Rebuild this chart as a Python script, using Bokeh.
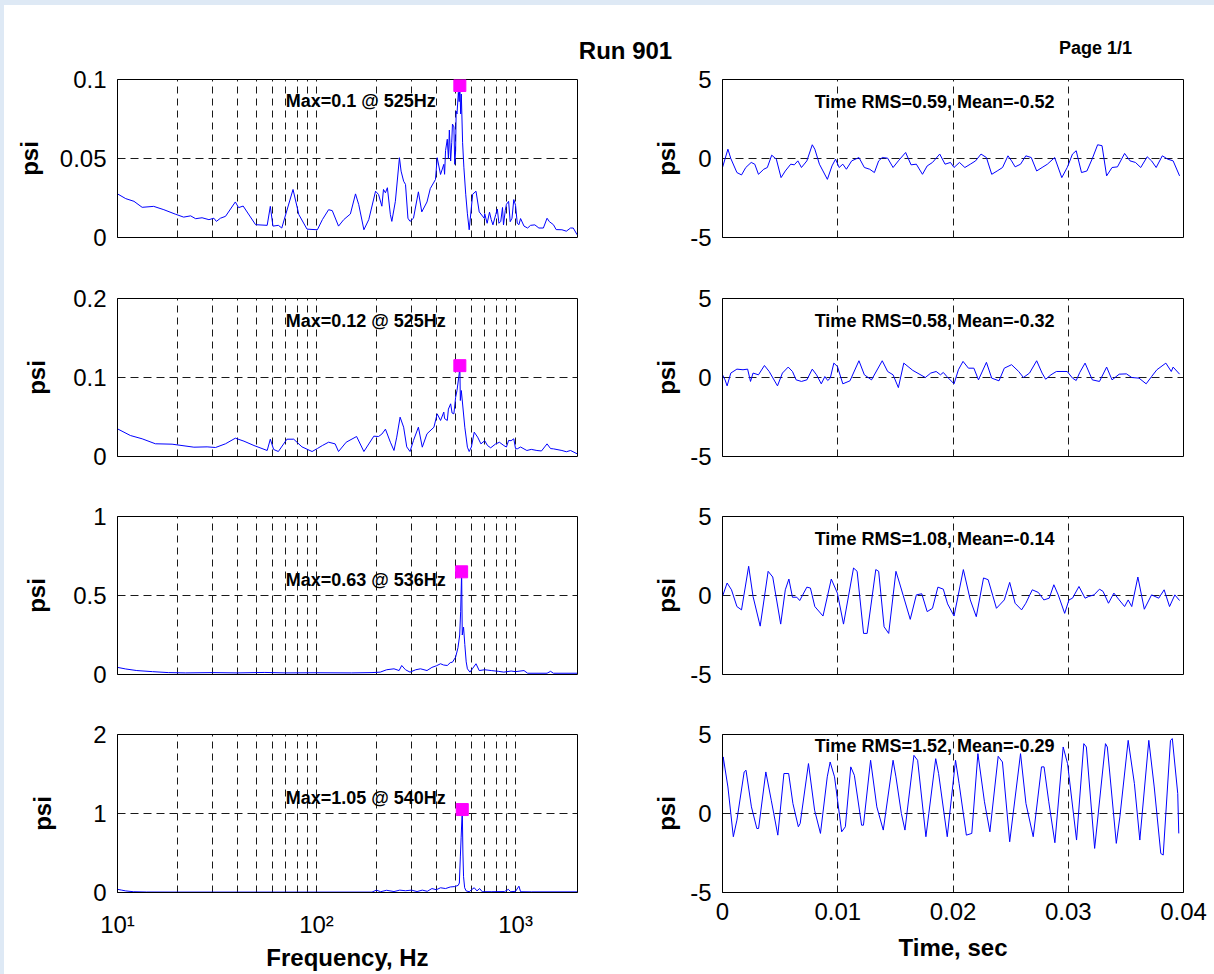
from bokeh.plotting import figure
from bokeh.layouts import row, column
from bokeh.models import FixedTicker, CustomJSTickFormatter, Label
from bokeh.embed import file_html
from bokeh.resources import INLINE

FONT = "Liberation Sans"
BLUE = "#0000ff"
MAGENTA = "#ff00ff"
FRAME_BLUE = "#dee9f5"

# ---------------- data ----------------
title_text = "Run 901"
page_text = "Page 1/1"

# Spectrum, channel 1 (Hz, psi)
freq1 = [10, 11, 12.1, 13.3, 15.2, 17.1, 19.5, 21.5, 23.3, 24.7, 26.6, 28.8, 30.5, 31.4, 32.9, 34.9,
         39.1, 40.6, 42.8, 49.4, 56.5, 58.6, 60.4, 64.3, 66.9, 76.2, 81.5, 89.6, 101, 107, 115, 120,
         129, 137, 148, 157, 163, 173, 183, 198, 205, 213, 217, 222, 227, 235, 239, 249, 261, 266,
         274, 280, 288, 295, 307, 325, 338, 359, 373, 396, 404, 420, 436, 440, 445, 454, 460, 465,
         472, 478, 482, 490, 495, 500, 503, 508, 516, 521, 525, 530, 534, 542, 550, 562, 573, 585,
         609, 633, 657, 696, 700, 720, 740, 755, 770, 795, 810, 825, 843, 860, 870, 888, 900, 923,
         940, 960, 980, 1000, 1020, 1040, 1060, 1103, 1150, 1190, 1250, 1310, 1380, 1440, 1480,
         1550, 1600, 1710, 1800, 1890, 1950, 2040]
amp1 = [0.0276, 0.0246, 0.0229, 0.0191, 0.0197, 0.0176, 0.0148, 0.0129, 0.0137, 0.0119, 0.0125, 0.0113,
        0.0122, 0.0102, 0.0122, 0.0134, 0.0225, 0.0189, 0.0199, 0.0081, 0.0077, 0.0197, 0.0072, 0.0077,
        0.0060, 0.0304, 0.0145, 0.0053, 0.0049, 0.0113, 0.0176, 0.0170, 0.0072, 0.0113, 0.0149, 0.0276,
        0.0208, 0.0049, 0.0113, 0.0293, 0.0272, 0.0198, 0.0304, 0.0283, 0.0315, 0.0145, 0.0102, 0.0229,
        0.0505, 0.0420, 0.0356, 0.0336, 0.0122, 0.0102, 0.0122, 0.0289, 0.0162, 0.0225, 0.0310, 0.0367,
        0.0505, 0.0399, 0.0463, 0.0400, 0.0550, 0.0622, 0.0500, 0.0680, 0.0484, 0.0600, 0.0718, 0.0700,
        0.0463, 0.0550, 0.0800, 0.0782, 0.0919, 0.0860, 0.0962, 0.0782, 0.0908, 0.0600, 0.0445, 0.0274,
        0.0150, 0.0049, 0.0274, 0.0293, 0.0162, 0.0122, 0.0150, 0.0090, 0.0160, 0.0113, 0.0080, 0.0145,
        0.0180, 0.0090, 0.0102, 0.0190, 0.0080, 0.0172, 0.0210, 0.0229, 0.0100, 0.0122, 0.0240, 0.0204,
        0.0090, 0.0081, 0.0120, 0.0072, 0.0060, 0.0077, 0.0080, 0.0060, 0.0060, 0.0122, 0.0100, 0.0081,
        0.0050, 0.0049, 0.0040, 0.0060, 0.0060, 0.0017]

# Spectrum, channel 2
freq2 = [10, 11.6, 13.3, 15.5, 18.8, 24.2, 28.2, 31.1, 34.9, 39.1, 43.2, 48.5, 56.5, 58.6, 60.9, 64.3,
         71, 76.8, 84.5, 95, 101, 107, 115, 124, 129, 141, 159, 173, 194, 205, 213, 222, 235, 245,
         253, 263, 274, 284, 295, 307, 325, 340, 359, 389, 404, 420, 436, 440, 454, 460, 472, 480,
         490, 500, 508, 521, 525, 528, 534, 556, 573, 585, 600, 620, 645, 670, 700, 723, 750, 795,
         830, 873, 900, 923, 950, 980, 1000, 1020, 1060, 1140, 1200, 1280, 1350, 1440, 1500, 1550,
         1710, 1800, 1890, 2040]
amp2 = [0.0350, 0.0266, 0.0224, 0.0161, 0.0156, 0.0118, 0.0122, 0.0114, 0.0161, 0.0232, 0.0194, 0.0139,
        0.0076, 0.0219, 0.0089, 0.0063, 0.0219, 0.0219, 0.0122, 0.0063, 0.0101, 0.0139, 0.0181, 0.0160,
        0.0063, 0.0181, 0.0253, 0.0063, 0.0257, 0.0253, 0.0284, 0.0346, 0.0181, 0.0076, 0.0245, 0.0498,
        0.0371, 0.0122, 0.0063, 0.0203, 0.0371, 0.0118, 0.0287, 0.0371, 0.0540, 0.0456, 0.0562, 0.0480,
        0.0456, 0.0600, 0.0667, 0.0550, 0.0540, 0.0750, 0.0835, 0.1047, 0.1150, 0.0709, 0.0835, 0.0371,
        0.0118, 0.0063, 0.0120, 0.0308, 0.0245, 0.0160, 0.0200, 0.0139, 0.0110, 0.0160, 0.0180, 0.0139,
        0.0120, 0.0203, 0.0200, 0.0224, 0.0100, 0.0097, 0.0120, 0.0076, 0.0090, 0.0076, 0.0070, 0.0160,
        0.0100, 0.0097, 0.0076, 0.0060, 0.0076, 0.0034]

# Spectrum, channel 3
freq3 = [10, 11, 12.5, 15, 18, 22, 30, 40, 55, 70, 100, 150, 190, 209, 225, 245, 260, 268, 280, 295,
         315, 333, 359, 380, 400, 420, 435, 454, 470, 482, 500, 514, 524, 530, 536, 540, 548, 556,
         565, 573, 590, 610, 633, 657, 700, 755, 820, 873, 950, 1000, 1103, 1150, 1440, 1500, 1550,
         2040]
amp3 = [0.045, 0.035, 0.025, 0.018, 0.012, 0.010, 0.012, 0.010, 0.013, 0.010, 0.011, 0.010, 0.012,
        0.015, 0.030, 0.036, 0.025, 0.057, 0.030, 0.015, 0.030, 0.036, 0.025, 0.045, 0.055, 0.068,
        0.060, 0.057, 0.075, 0.078, 0.110, 0.170, 0.250, 0.400, 0.650, 0.250, 0.300, 0.190, 0.080,
        0.036, 0.015, 0.040, 0.068, 0.025, 0.030, 0.025, 0.020, 0.015, 0.022, 0.018, 0.025, 0.008,
        0.008, 0.020, 0.008, 0.008]

# Spectrum, channel 4
freq4 = [10, 10.5, 11, 12, 14, 20, 50, 100, 190, 200, 210, 225, 245, 262, 280, 300, 320, 340, 360,
         380, 400, 420, 445, 470, 495, 515, 522, 528, 533, 540, 544, 548, 555, 565, 585, 605, 620,
         640, 660, 680, 760, 880, 920, 945, 1000, 1040, 1060, 1200, 2040]
amp4 = [0.040, 0.030, 0.020, 0.010, 0.006, 0.005, 0.005, 0.005, 0.005, 0.030, 0.010, 0.028, 0.012,
        0.030, 0.022, 0.030, 0.012, 0.030, 0.015, 0.050, 0.035, 0.060, 0.050, 0.070, 0.075, 0.090,
        0.120, 0.450, 0.700, 1.050, 0.500, 0.200, 0.060, 0.020, 0.010, 0.040, 0.060, 0.020, 0.050,
        0.010, 0.010, 0.012, 0.040, 0.010, 0.015, 0.080, 0.010, 0.008, 0.008]

max_texts = ["Max=0.1 @ 525Hz", "Max=0.12 @ 525Hz", "Max=0.63 @ 536Hz", "Max=1.05 @ 540Hz"]

# Time histories (ms, psi)
t1 = [0.00, 0.47, 0.72, 1.25, 1.65, 2.02, 2.49, 2.80, 3.12, 3.58, 3.89, 4.27, 4.67, 5.08, 5.45, 5.92,
      6.23, 6.54, 6.85, 7.32, 7.79, 8.01, 8.41, 8.72, 9.10, 9.50, 9.81, 10.12, 10.44, 10.75, 11.21,
      11.84, 12.31, 12.77, 13.18, 13.55, 13.86, 14.33, 14.80, 15.26, 15.89, 16.36, 16.82, 17.35,
      17.76, 18.22, 18.85, 19.31, 19.78, 20.09, 20.56, 21.03, 21.50, 21.96, 22.43, 22.90, 23.36,
      23.83, 24.30, 24.77, 25.08, 25.39, 25.86, 26.32, 26.79, 27.26, 27.73, 28.19, 28.82, 29.44,
      29.91, 30.37, 30.69, 31.15, 31.62, 32.09, 32.55, 32.93, 33.33, 33.80, 34.27, 34.89, 35.36,
      35.83, 36.29, 36.85, 37.23, 37.63, 38.16, 38.63, 39.10, 39.66]
v1 = [-0.57, 0.59, 0.00, -0.89, -1.04, -0.57, -0.25, -0.36, -1.00, -0.68, -0.57, 0.21, -0.04, -1.21,
      -0.79, -0.36, -0.40, -0.15, -0.57, -0.15, 0.87, 0.59, -0.36, -0.79, -1.32, -0.47, -0.04, -0.57,
      -0.36, -0.68, -0.15, 0.06, -0.57, -0.68, -0.89, -0.15, 0.06, 0.02, -0.57, -0.15, 0.38, -0.40,
      -0.36, -1.00, -0.47, -0.25, 0.28, -0.36, -0.25, -0.57, -0.25, -0.57, -0.36, -0.15, 0.28, 0.06,
      -1.00, -0.79, -0.57, 0.17, -0.15, -0.53, -0.36, 0.17, 0.06, -0.79, -0.57, -0.36, 0.06, -1.21,
      -0.57, 0.28, 0.49, -0.89, -0.79, 0.00, 0.87, 0.81, -1.10, -0.57, -0.53, 0.32, -0.15, -0.25,
      -0.57, 0.11, -0.15, -0.57, 0.17, -0.04, -0.15, -1.10]

t2 = [0.00, 0.22, 0.40, 0.72, 1.25, 1.78, 2.18, 2.43, 2.65, 3.12, 3.64, 4.05, 4.77, 5.20, 5.70, 6.07,
      6.39, 6.85, 7.32, 7.79, 8.16, 8.57, 8.88, 9.13, 9.35, 9.66, 9.97, 10.44, 11.06, 11.84, 12.31,
      12.93, 13.86, 14.33, 14.80, 15.26, 15.73, 16.51, 17.60, 18.07, 18.54, 18.91, 19.16, 19.47,
      20.09, 20.47, 20.87, 21.34, 21.81, 22.21, 22.90, 23.36, 23.99, 24.45, 25.08, 25.70, 26.11,
      26.64, 27.26, 27.73, 28.04, 28.50, 28.97, 29.91, 30.37, 30.69, 31.00, 31.46, 32.09, 32.71,
      33.33, 33.80, 34.42, 35.05, 35.51, 36.14, 36.76, 37.23, 37.69, 38.47, 38.94, 39.10, 39.66]
v2 = [0.17, -0.15, -0.53, 0.28, 0.53, 0.49, 0.53, -0.25, 0.28, 0.17, 0.76, 0.38, -0.53, 0.28, 0.66,
      0.38, -0.15, -0.25, -0.15, 0.53, 0.17, -0.40, 0.06, -0.19, -0.04, 0.91, 0.70, -0.40, -0.21, 1.06,
      0.17, -0.15, 1.06, 0.38, 0.17, -0.64, 0.91, 0.45, 0.00, 0.28, 0.38, 0.17, 0.32, 0.06, -0.40,
      0.49, 1.02, 0.59, 0.59, -0.15, 0.96, -0.04, -0.21, 0.59, 0.81, 0.38, 0.00, 0.28, 1.06, 0.28,
      -0.11, 0.17, 0.38, 0.38, -0.04, -0.19, 0.32, 0.91, -0.15, -0.25, 0.66, -0.15, 0.21, 0.23, 0.00,
      -0.04, -0.40, 0.06, 0.49, 0.91, 0.38, 0.66, 0.21]

t3 = [0.00, 0.40, 0.78, 1.25, 1.65, 2.27, 2.65, 3.27, 3.96, 4.36, 5.05, 5.45, 5.76, 6.07, 6.45, 6.70,
      7.32, 7.63, 8.01, 8.72, 9.44, 9.97, 10.50, 11.37, 11.68, 12.24, 12.55, 13.30, 13.55, 14.02,
      14.42, 15.05, 15.36, 16.29, 16.82, 17.29, 17.76, 18.22, 18.69, 19.16, 19.53, 20.09, 20.90,
      21.50, 22.02, 22.65, 23.05, 23.77, 24.45, 24.92, 25.39, 25.95, 26.32, 26.88, 27.41, 27.88,
      28.35, 28.75, 29.13, 29.69, 30.06, 30.37, 30.93, 31.46, 31.78, 32.24, 32.71, 33.02, 33.49,
      33.96, 34.42, 34.89, 35.20, 35.51, 36.04, 36.60, 37.23, 37.85, 38.32, 38.79, 39.25, 39.66]
v3 = [-0.06, 0.79, 0.36, -0.70, -0.91, 1.85, -0.06, -1.94, 1.53, 1.17, -1.81, 0.36, 1.04, -0.11, -0.11,
      -0.32, 0.53, 0.47, -0.70, -1.30, 1.04, 0.15, -1.81, 1.74, 1.53, -2.40, -2.40, 1.64, 1.53, -1.98,
      -2.40, 1.53, 0.79, -1.51, 0.04, 0.11, -1.02, -0.81, 0.53, 0.40, -0.53, -1.30, 1.64, -0.28, -1.34,
      1.11, 1.00, -0.81, -0.28, 0.83, -0.49, -0.91, -0.49, 0.36, 0.19, -0.28, -0.17, 0.68, 0.04, -1.13,
      -0.28, -0.17, 0.57, -0.17, -0.06, 0.04, 0.40, 0.26, -0.49, 0.15, -0.28, -0.70, -0.28, -0.70,
      1.17, -0.87, 0.04, -0.17, 0.36, -0.70, 0.04, -0.32]

t4 = [0.00, 0.06, 0.47, 0.94, 1.25, 1.88, 2.04, 2.51, 2.98, 3.13, 3.76, 4.23, 4.80, 5.33, 5.74, 6.11,
      6.58, 6.74, 7.46, 7.99, 8.50, 9.09, 9.34, 9.72, 10.34, 10.66, 11.13, 11.44, 12.07, 12.23, 12.85,
      13.39, 13.95, 14.80, 15.05, 15.52, 15.83, 16.61, 16.93, 17.65, 18.50, 18.75, 19.50, 20.22,
      20.53, 21.16, 21.63, 22.16, 22.73, 23.20, 23.92, 24.29, 24.92, 25.86, 26.33, 26.96, 27.68,
      27.90, 28.31, 28.84, 29.56, 29.94, 30.72, 31.35, 31.57, 32.29, 33.23, 33.39, 34.17, 34.48,
      35.20, 35.74, 36.21, 36.99, 37.46, 38.03, 38.24, 38.87, 39.03, 39.50, 39.59]
v4 = [2.53, 3.58, 1.68, -1.47, -0.42, 2.63, 2.74, 0.42, -0.95, -0.95, 2.63, 0.84, -1.37, 2.53, 2.53,
      0.63, -0.84, -0.63, 3.16, 0.21, -1.26, 2.32, 3.26, 2.32, -1.16, -0.84, 2.95, 2.42, -0.74, -0.74,
      3.37, 0.42, -1.05, 3.37, 2.32, 0.00, -1.05, 3.68, 3.37, -1.47, 3.47, 2.53, -1.47, 3.37, 1.89,
      -1.37, -1.26, 3.79, 0.74, -1.16, 3.62, 3.26, -1.79, 3.79, 0.63, -1.47, 2.95, 2.95, 0.74, -1.85,
      4.21, 3.16, -1.68, 4.42, 4.21, -2.21, 4.42, 4.21, -1.89, -0.21, 4.63, 1.89, -1.68, 4.63, 1.68,
      -2.53, -2.63, 4.63, 4.74, 1.26, -1.26]

time_texts = ["Time RMS=0.59, Mean=-0.52", "Time RMS=0.58, Mean=-0.32",
              "Time RMS=1.08, Mean=-0.14", "Time RMS=1.52, Mean=-0.29"]

freqs = [freq1, freq2, freq3, freq4]
amps = [amp1, amp2, amp3, amp4]
times = [t1, t2, t3, t4]
vals = [v1, v2, v3, v4]

spec_ymax = [0.1, 0.2, 1, 2]
spec_yticks = [[0, 0.05, 0.1], [0, 0.1, 0.2], [0, 0.5, 1], [0, 1, 2]]
freq_ticks = [10, 100, 1000]
time_ticks = [0, 0.01, 0.02, 0.03, 0.04]
psi_ticks = [-5, 0, 5]

# ---------------- layout / style ----------------
W_LEFT, W_RIGHT = 650, 564
HDR_H = 66
ROW_H = [201, 219, 218, 270]
B_TOP = [13, 31, 30, 30]
B_BOT = [30, 30, 30, 82]
LEFT_LABEL_STANDOFF = [14, 20, 20, 34]
max_text_y = [0.0867, 0.172, 0.595, 1.2]
time_text_y = [3.6, 3.6, 3.6, 4.3]

num_fmt = CustomJSTickFormatter(code="return String(tick);")
log_fmt = CustomJSTickFormatter(code="""
const s = ['\\u2070','\\u00b9','\\u00b2','\\u00b3','\\u2074','\\u2075','\\u2076','\\u2077','\\u2078','\\u2079'];
return '10' + s[Math.round(Math.log10(tick))];
""")

GRID_COLOR = "#1a1a1a"


def base_style(p):
    p.outline_line_color = "black"
    p.outline_line_width = 1
    p.outline_line_alpha = 1
    p.background_fill_color = "white"
    p.border_fill_color = None
    p.title.visible = False
    for ax in p.axis:
        ax.axis_line_color = "black"
        ax.major_tick_line_color = None
        ax.minor_tick_line_color = None
        ax.major_label_text_font = FONT
        ax.major_label_text_font_size = "24px"
        ax.major_label_text_color = "black"
        ax.axis_label_text_font = FONT
        ax.axis_label_text_font_size = "24px"
        ax.axis_label_text_font_style = "bold"
        ax.axis_label_text_color = "black"
    for g in p.grid:
        g.grid_line_color = GRID_COLOR
        g.grid_line_width = 1
        g.grid_line_alpha = 1


def spectrum_fig(i):
    last = i == 3
    p = figure(width=W_LEFT, height=ROW_H[i], x_axis_type="log",
               x_range=(10, 2048), y_range=(0, spec_ymax[i]),
               min_border_left=117, min_border_right=73,
               min_border_top=B_TOP[i], min_border_bottom=B_BOT[i],
               output_backend="svg", toolbar_location=None)
    base_style(p)
    p.yaxis.ticker = FixedTicker(ticks=spec_yticks[i])
    p.yaxis.formatter = num_fmt
    p.yaxis.axis_label = "psi"
    p.yaxis.axis_label_standoff = LEFT_LABEL_STANDOFF[i]
    p.yaxis.major_label_standoff = 5
    p.xgrid.ticker = FixedTicker(ticks=[20, 30, 40, 50, 60, 70, 80, 90, 100,
                                        200, 300, 400, 500, 600, 700, 800, 900, 1000])
    p.xgrid.grid_line_dash = "7 5"
    p.ygrid.ticker = FixedTicker(ticks=[spec_yticks[i][1]])
    p.ygrid.grid_line_dash = "8 5"
    if last:
        p.xaxis.ticker = FixedTicker(ticks=freq_ticks)
        p.xaxis.formatter = log_fmt
        p.xaxis.axis_label = "Frequency, Hz"
        p.xaxis.major_label_standoff = 12
        p.xaxis.axis_label_standoff = 3
    else:
        p.xaxis.visible = False
    f, a = freqs[i], amps[i]
    p.line(f, a, line_color=BLUE, line_width=1)
    k = max(range(len(a)), key=lambda j: a[j])
    p.scatter([f[k]], [a[k]], marker="square", size=12,
              fill_color=MAGENTA, line_color=MAGENTA)
    p.add_layout(Label(x=70, y=max_text_y[i], text=max_texts[i],
                       text_font=FONT, text_font_size="18px", text_font_style="bold",
                       text_align="left", text_baseline="middle", text_color="black"))
    return p


def time_fig(i):
    last = i == 3
    p = figure(width=W_RIGHT, height=ROW_H[i], x_range=(0, 0.04), y_range=(-5, 5),
               min_border_left=72, min_border_right=31,
               min_border_top=B_TOP[i], min_border_bottom=B_BOT[i],
               output_backend="svg", toolbar_location=None)
    base_style(p)
    p.yaxis.ticker = FixedTicker(ticks=psi_ticks)
    p.yaxis.formatter = num_fmt
    p.yaxis.axis_label = "psi"
    p.yaxis.axis_label_standoff = 7
    p.yaxis.major_label_standoff = 5
    p.xgrid.ticker = FixedTicker(ticks=[0.01, 0.02, 0.03])
    p.xgrid.grid_line_dash = "7 5"
    p.ygrid.ticker = FixedTicker(ticks=[0])
    p.ygrid.grid_line_dash = "8 5"
    if last:
        p.xaxis.ticker = FixedTicker(ticks=time_ticks)
        p.xaxis.formatter = num_fmt
        p.xaxis.axis_label = "Time, sec"
        p.xaxis.major_label_standoff = 4
        p.xaxis.axis_label_standoff = 11
    else:
        p.xaxis.visible = False
    t = [x / 1000.0 for x in times[i]]
    p.line(t, vals[i], line_color=BLUE, line_width=1)
    p.add_layout(Label(x=0.008, y=time_text_y[i], text=time_texts[i],
                       text_font=FONT, text_font_size="18px", text_font_style="bold",
                       text_align="left", text_baseline="middle", text_color="black"))
    return p


# header
hdr = figure(width=W_LEFT + W_RIGHT, height=HDR_H, x_range=(0, W_LEFT + W_RIGHT), y_range=(0, HDR_H),
             x_axis_type=None, y_axis_type=None, min_border=0,
             output_backend="svg", toolbar_location=None)
hdr.outline_line_color = None
hdr.background_fill_color = None
hdr.border_fill_color = None
hdr.grid.visible = False
hdr.title.visible = False
hdr.add_layout(Label(x=625, y=16, text=title_text, text_font=FONT, text_font_size="24px",
                     text_font_style="bold", text_align="center", text_baseline="middle",
                     text_color="black"))
hdr.add_layout(Label(x=1095, y=19, text=page_text, text_font=FONT, text_font_size="18px",
                     text_font_style="bold", text_align="center", text_baseline="middle",
                     text_color="black"))

rows = [hdr]
for i in range(4):
    rows.append(row(spectrum_fig(i), time_fig(i), spacing=0))

page_bg = (f"linear-gradient({FRAME_BLUE}, {FRAME_BLUE}) left top / 100% 5px no-repeat, "
           f"linear-gradient({FRAME_BLUE}, {FRAME_BLUE}) left top / 4px 100% no-repeat, white")
p = column(*rows, spacing=0, styles={"background": page_bg})

open("out.html", "w").write(file_html(p, INLINE))
